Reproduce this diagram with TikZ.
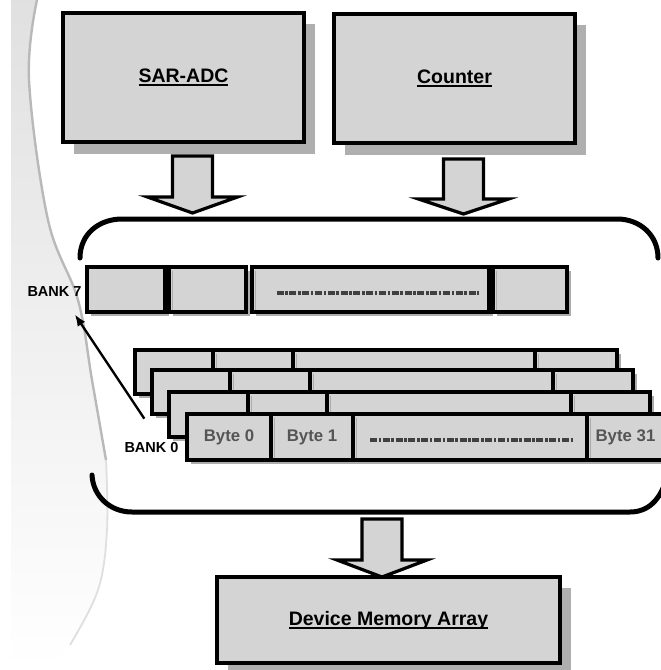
\documentclass[tikz,border=0pt]{standalone}
\usepackage{fontspec}
\setmainfont{Liberation Sans}
\usetikzlibrary{arrows.meta,calc}
\definecolor{boxgray}{RGB}{212,212,212}
\definecolor{txtgray}{RGB}{85,85,85}
\definecolor{shadowgray}{RGB}{175,175,175}
\newsavebox\ulsave
\newcommand\ulbox[1]{\sbox\ulsave{#1}\rlap{\rule[-3.8pt]{\wd\ulsave}{2pt}}\usebox\ulsave}
% cell: name, x1, x2, y1, y2, text
\newcommand\cellnode[6]{%
  \fill[cellshadow] ({#2+4},{#4+4}) rectangle ({#3+4},{#5+4});
  \node[cellbox, minimum width={#3-#2}, minimum height={#5-#4}] (#1) at ({(#2+#3)/2},{(#4+#5)/2}) {#6};}
\newcommand\cellnodex[6]{%
  \cellnode{#1}{#2}{#3}{#4}{#5}{#6}
  \draw[cellshadow, line width=1.6pt] ({#2+3.6},{#4+3.5}) -- ({#2+3.6},{#5-1.8});}
\newcommand\blockarrow[4]{%
  \draw[blockarrow] ({#1-20},#2) -- ({#1+20},#2) -- ({#1+20},#3) -- ({#1+45},#3) -- (#1,#4) -- ({#1-45},#3) -- ({#1-20},#3) -- cycle;}
\begin{document}
\begin{tikzpicture}[x=1pt,y=-1pt,
  bigbox/.style={draw=black, line width=3.6pt, fill=boxgray, inner sep=0pt,
    font=\bfseries\fontsize{19.5}{22}\selectfont},
  bigshadow/.style={fill=shadowgray},
  cellbox/.style={draw=black, line width=3.4pt, fill=boxgray, inner sep=0pt,
    font=\bfseries\fontsize{16.8}{19}\selectfont, text=txtgray},
  cellshadow/.style={gray!65},
  blockarrow/.style={draw=black, line width=3.2pt, fill=boxgray, line join=miter},
  banklabel/.style={inner sep=0pt, font=\bfseries\fontsize{14.5}{16}\selectfont},
  dotline/.style={draw=black!75, line width=3.6pt, dash pattern=on 7pt off 1.6pt on 2.6pt off 1.6pt},
  bracket/.style={draw=black, line width=5pt, line cap=round},
  pointer/.style={draw=black, line width=2.4pt, -{Latex[length=12pt,width=9pt]}}
]
\useasboundingbox (0,0) rectangle (661,670);
\clip (0,0) rectangle (661,670);
\fill[white] (0,0) rectangle (661,670);

% background swoosh
\shade[top color=gray!24, bottom color=white, middle color=gray!12]
  (11,0) -- plot[smooth, tension=0.6] coordinates {(37,0) (29,80) (48,220) (78,300) (92,380) (106,460) (107,530) (98,590) (70,645)}
  -- (40,670) -- (11,670) -- cycle;
\draw[gray!55, line width=2.4pt] plot[smooth, tension=0.6] coordinates {(37,0) (29,80) (48,220) (78,300) (92,380) (106,460)};
\draw[gray!25, line width=1.8pt] plot[smooth, tension=0.6] coordinates {(106,460) (107,530) (98,590) (70,645)};

% top boxes
\fill[bigshadow] (74,24) rectangle (315,154);
\node[bigbox, minimum width=241, minimum height=129] (sar) at (183.5,77.5) {\ulbox{SAR-ADC}};
\fill[bigshadow] (345,25) rectangle (586,155);
\node[bigbox, minimum width=241, minimum height=129] (ctr) at (454.5,78.5) {\ulbox{Counter}};

% block arrows
\blockarrow{192.5}{156}{197}{213}
\blockarrow{463.5}{159}{199}{214}

% bracket
\draw[bracket] (80,258) .. controls (80,234) and (99,219) .. (122,219) -- (617,219)
  .. controls (640,219) and (658,235) .. (658,258);
\draw[bracket] (92,475) .. controls (93,496) and (110,512) .. (132,512) -- (630,512)
  .. controls (648,512) and (660,500) .. (666,480);

% bank 7 row
\cellnode{ka}{87}{165}{267}{312}{}
\cellnodex{kb}{169}{246}{267}{312}{}
\cellnodex{kc}{252}{489}{267}{312}{}
\cellnodex{kd}{493}{567}{267}{312}{}
\draw[dotline] ($(kc.center)+(-94,3.5)$) -- ($(kc.center)+(108,3.5)$);

% stacked banks
\cellnode{a1}{135}{213}{350}{394}{}
\cellnodex{a2}{213}{293}{350}{394}{}
\cellnodex{a3}{293}{535}{350}{394}{}
\cellnodex{a4}{535}{617}{350}{394}{}
\cellnode{b1}{152}{230}{370}{414}{}
\cellnodex{b2}{230}{310}{370}{414}{}
\cellnodex{b3}{310}{553}{370}{414}{}
\cellnodex{b4}{553}{633}{370}{414}{}
\cellnode{c1}{169}{248}{392}{437}{}
\cellnodex{c2}{248}{327}{392}{437}{}
\cellnodex{c3}{327}{571}{392}{437}{}
\cellnodex{c4}{571}{650}{392}{437}{}
\cellnode{d1}{187}{271}{414}{460}{Byte 0}
\cellnodex{d2}{271}{353}{414}{460}{Byte 1}
\cellnodex{d3}{353}{587}{414}{460}{}
\cellnodex{d4}{587}{667}{414}{460}{\hspace*{-3pt}Byte 31}
\draw[dotline] ($(d3.center)+(-100,3)$) -- ($(d3.center)+(103,3)$);

% bank labels and pointer
\node[banklabel] (bank7) at (54.5,292) {BANK 7};
\node[banklabel] (bank0) at (151.5,448) {BANK 0};
\coordinate (p0) at ($(bank0.north west)+(20,-24)$);
\coordinate (p7) at ($(bank7.south east)+(-7,17)$);
\draw[pointer] (p0) -- (p7);

% bottom
\blockarrow{382}{519}{560}{577}
\fill[bigshadow] (228,588) rectangle (571,675);
\node[bigbox, minimum width=343, minimum height=86] (dev) at (388.5,620) {\ulbox{Device Memory Array}};
\end{tikzpicture}
\end{document}
